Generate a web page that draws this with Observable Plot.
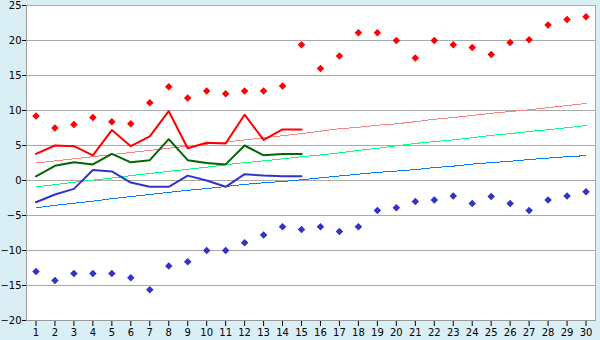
<!DOCTYPE html>
<html>
<head>
<meta charset="utf-8">
<script src="https://cdn.jsdelivr.net/npm/d3@7"></script>
<script src="https://cdn.jsdelivr.net/npm/@observablehq/plot@0.6"></script>
<style>
  html, body { margin: 0; padding: 0; background: #d9eef5; }
  #chart { width: 600px; height: 340px; }
</style>
</head>
<body>
<div id="chart"></div>
<script>
const days = d3.range(1, 31);
const yTicks = [-20, -15, -10, -5, 0, 5, 10, 15, 20, 25];

// Record highs / lows (diamonds)
const recordMax = [9.2, 7.5, 8.0, 9.0, 8.4, 8.1, 11.1, 13.4, 11.8, 12.8, 12.4, 12.8, 12.8, 13.5, 19.4,
                   16.0, 17.8, 21.1, 21.1, 20.0, 17.5, 20.0, 19.4, 19.0, 18.0, 19.7, 20.1, 22.2, 23.0, 23.4];
const recordMin = [-13.0, -14.3, -13.3, -13.3, -13.3, -13.9, -15.6, -12.2, -11.6, -10.0, -10.0, -8.9, -7.8, -6.6, -7.0,
                   -6.6, -7.3, -6.6, -4.3, -3.9, -3.0, -2.8, -2.2, -3.3, -2.3, -3.3, -4.3, -2.8, -2.2, -1.6];

// Observed averages (days 1-15)
const obsDays = d3.range(1, 16);
const obsMax  = [3.8, 5.0, 4.9, 3.6, 7.2, 4.9, 6.3, 9.9, 4.6, 5.4, 5.3, 9.4, 5.8, 7.3, 7.3];
const obsMean = [0.6, 2.1, 2.6, 2.3, 3.8, 2.6, 2.9, 5.9, 2.9, 2.5, 2.3, 5.0, 3.6, 3.8, 3.8];
const obsMin  = [-3.1, -2.0, -1.2, 1.5, 1.3, -0.3, -0.9, -0.9, 0.7, 0.0, -0.9, 0.9, 0.7, 0.6, 0.6];

// Normals
const normMax  = [2.5, 2.8, 3.1, 3.4, 3.7, 4.0, 4.3, 4.6, 4.9, 5.2, 5.5, 5.8, 6.1, 6.4, 6.7,
                  7.05, 7.4, 7.6, 7.9, 8.1, 8.4, 8.75, 9.0, 9.3, 9.6, 9.85, 10.1, 10.4, 10.7, 11.0];
const normMean = [-0.9, -0.6, -0.25, 0.05, 0.35, 0.7, 1.0, 1.3, 1.6, 1.9, 2.25, 2.55, 2.8, 3.1, 3.4,
                  3.65, 3.95, 4.3, 4.6, 4.95, 5.3, 5.55, 5.8, 6.1, 6.45, 6.7, 7.0, 7.25, 7.55, 7.85];
const normMin  = [-3.9, -3.55, -3.25, -2.95, -2.6, -2.3, -2.0, -1.7, -1.4, -1.15, -0.85, -0.55, -0.33, -0.14, 0.1,
                  0.38, 0.65, 0.9, 1.15, 1.35, 1.55, 1.85, 2.05, 2.35, 2.55, 2.75, 3.0, 3.2, 3.4, 3.55];

const rows = (xs, ys) => xs.map((d, i) => ({day: d, v: ys[i]}));

const chart = Plot.plot({
  width: 600,
  height: 340,
  marginTop: 5,
  marginRight: 5,
  marginBottom: 20,
  marginLeft: 26,
  style: {fontFamily: "DejaVu Sans", fontSize: "10px", background: "#d9eef5", color: "black"},
  x: {type: "linear", domain: [0.5, 30.5], label: null},
  y: {domain: [-20, 25], label: null},
  marks: [
    Plot.frame({fill: "white", stroke: "#aaaaaa"}),
    Plot.gridY(yTicks, {stroke: "#aaaaaa", strokeOpacity: 1}),
    Plot.axisY(yTicks, {tickSize: 4, tickPadding: 1, stroke: "black", label: null}),
    Plot.axisX(days, {tickSize: 6, tickPadding: 2, stroke: "black", label: null, tickFormat: d => String(d)}),
    Plot.line(rows(days, normMax), {x: "day", y: "v", stroke: "#ff8080", strokeWidth: 1, shapeRendering: "crispEdges"}),
    Plot.line(rows(days, normMean), {x: "day", y: "v", stroke: "#00ff80", strokeWidth: 1, shapeRendering: "crispEdges"}),
    Plot.line(rows(days, normMin), {x: "day", y: "v", stroke: "#0080ff", strokeWidth: 1, shapeRendering: "crispEdges"}),
    Plot.line(rows(obsDays, obsMax), {x: "day", y: "v", stroke: "#ff0000", strokeWidth: 2}),
    Plot.line(rows(obsDays, obsMean), {x: "day", y: "v", stroke: "#006600", strokeWidth: 2}),
    Plot.line(rows(obsDays, obsMin), {x: "day", y: "v", stroke: "#3333cc", strokeWidth: 2}),
    Plot.dot(rows(days, recordMax), {x: "day", y: "v", symbol: "diamond2", r: 3.4, fill: "#ff0000", stroke: "none"}),
    Plot.dot(rows(days, recordMin), {x: "day", y: "v", symbol: "diamond2", r: 3.4, fill: "#3333cc", stroke: "none"}),
    Plot.ruleY([-20], {stroke: "#999999"})
  ]
});
document.getElementById("chart").appendChild(chart);
const svg = d3.select(chart);
// left axis line
svg.append("line").attr("x1", 26.5).attr("x2", 26.5).attr("y1", 5).attr("y2", 320).attr("stroke", "#999999");
</script>
</body>
</html>
